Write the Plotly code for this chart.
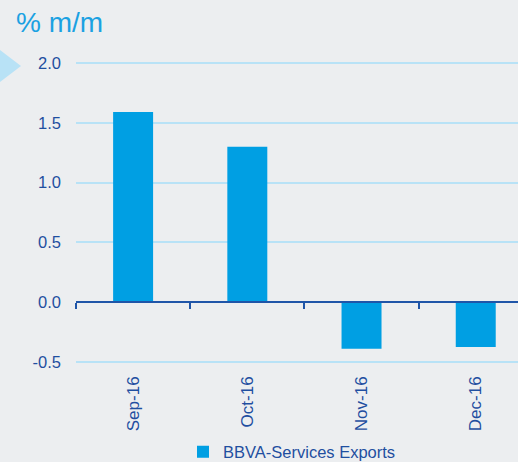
import plotly.graph_objects as go

# --- data ---
months = ['Sep-16', 'Oct-16', 'Nov-16', 'Dec-16']
exports_mm = [1.59, 1.30, -0.39, -0.375]
y_ticks = [-0.5, 0.0, 0.5, 1.0, 1.5, 2.0]
y_labels = ['-0.5', '0.0', '0.5', '1.0', '1.5', '2.0']

COLORS = {
    'bg': '#eceef0',
    'bar': '#009fe3',
    'text': '#1f4fa0',
    'title': '#1ba1e2',
    'grid': '#b8e2f6',
    'axis': '#1f55a8',
}

W, H = 518, 462
M_L, M_R, M_T, M_B = 76, 0, 57, 94
Y_RANGE = [-0.55, 2.05]
X_RANGE = [-0.5, 3.37]

def px_x(p):
    return (p - M_L) / (W - M_L - M_R)

def px_y(p):
    return (H - M_B - p) / (H - M_T - M_B)

fig = go.Figure()

fig.add_trace(go.Bar(
    x=months, y=exports_mm,
    name='BBVA-Services Exports',
    marker=dict(color=COLORS['bar'], line=dict(width=0)),
))

# dummy trace so the zero-line axis gets drawn
fig.add_trace(go.Scatter(
    x=months, y=[0] * len(months), xaxis='x2', mode='none',
    showlegend=False, hoverinfo='skip',
))

zero_pos = (0 - Y_RANGE[0]) / (Y_RANGE[1] - Y_RANGE[0])

fig.update_layout(
    width=W, height=H, autosize=False,
    margin=dict(l=M_L, r=M_R, t=M_T, b=M_B, autoexpand=False),
    paper_bgcolor=COLORS['bg'], plot_bgcolor=COLORS['bg'],
    font=dict(family='Liberation Sans, Arial, sans-serif', color=COLORS['text'], size=16),
    bargap=0.65,
    showlegend=True,
    legend=dict(orientation='h', x=px_x(292), xanchor='center',
                yref='container', y=1 - 452 / H, yanchor='middle',
                font=dict(size=16.5), bgcolor='rgba(0,0,0,0)', itemwidth=30),
    xaxis=dict(
        range=X_RANGE, showgrid=False, showline=False, ticks='', zeroline=False,
        tickangle=-90, tickfont=dict(size=17), ticklabelstandoff=4, automargin=False,
    ),
    xaxis2=dict(
        overlaying='x', anchor='free', position=zero_pos, range=X_RANGE,
        type='category', categoryorder='array', categoryarray=months,
        showgrid=False, showline=True, linecolor=COLORS['axis'], linewidth=2,
        ticks='outside', tickson='boundaries', ticklen=6, tickwidth=2, tickcolor=COLORS['axis'],
        showticklabels=False, zeroline=False, automargin=False,
    ),
    yaxis=dict(
        range=Y_RANGE, tickvals=y_ticks, ticktext=y_labels,
        showgrid=True, gridcolor=COLORS['grid'], gridwidth=2,
        zeroline=False, showline=False, ticks='', ticklabelstandoff=14,
        tickfont=dict(size=16.5), automargin=False,
    ),
    annotations=[dict(
        text='% m/m', xref='paper', yref='paper', x=px_x(14), y=px_y(40),
        xanchor='left', yanchor='bottom', showarrow=False,
        font=dict(size=28, color=COLORS['title']),
    )],
    shapes=[dict(
        type='path', xref='paper', yref='paper',
        path=f'M {px_x(0)} {px_y(50)} L {px_x(21)} {px_y(66)} L {px_x(0)} {px_y(82)} Z',
        fillcolor=COLORS['grid'], line=dict(width=0), layer='above',
    )],
)

fix_page = (
    "document.body.style.margin='0';"
    "document.body.style.overflow='hidden';"
    "var gd=document.getElementById('{plot_id}');"
    "Plotly.relayout(gd,{width:%d,height:%d});" % (W, H)
)

fig.write_html('out.html', config={'displayModeBar': False, 'responsive': False},
               post_script=fix_page)
